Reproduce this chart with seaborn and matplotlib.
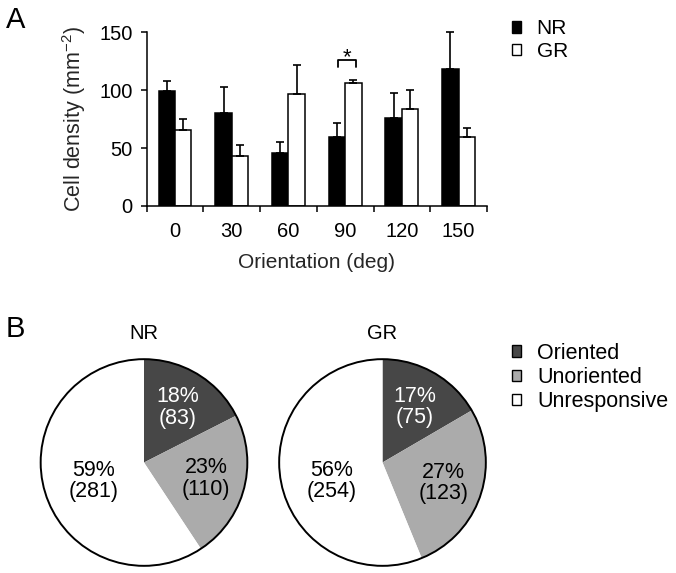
import seaborn as sns
import matplotlib.pyplot as plt
import pandas as pd
from matplotlib.patches import Patch, Circle

# panel A data: cell density per orientation (mean, upward error)
orientations = ["0", "30", "60", "90", "120", "150"]
nr_density = [99, 80, 46, 60, 76, 118]
nr_err = [9, 23, 9, 12, 22, 32]
gr_density = [66, 43, 97, 106, 84, 60]
gr_err = [9, 10, 25, 2.5, 16, 7]
groups = ["NR", "GR"]

# panel B data: cell counts per response class
classes = ["Oriented", "Unoriented", "Unresponsive"]
nr_counts = [83, 110, 281]
gr_counts = [75, 123, 254]
class_colors = ["#474747", "#ababab", "#ffffff"]

sns.set_style("ticks")
plt.rcParams["font.family"] = ["Liberation Sans", "DejaVu Sans"]
plt.rcParams["mathtext.default"] = "regular"
plt.rcParams["text.color"] = "black"
plt.rcParams["xtick.color"] = "black"
plt.rcParams["ytick.color"] = "black"

fig = plt.figure(figsize=(6.76, 5.73), dpi=100)

# ---------- A: bar chart ----------
ax = fig.add_axes([0.217, 0.6405, 0.5034, 0.3031])
df = pd.DataFrame({
    "orientation": orientations * 2,
    "group": ["NR"] * len(orientations) + ["GR"] * len(orientations),
    "density": nr_density + gr_density,
})
sns.barplot(data=df, x="orientation", y="density", hue="group",
            order=orientations, hue_order=groups,
            palette={"NR": "black", "GR": "white"},
            edgecolor="black", linewidth=1.1, width=0.58,
            errorbar=None, legend=False, ax=ax)

centers = {}
for cont, errs, g in zip(ax.containers, [nr_err, gr_err], groups):
    xs = []
    for bar, e in zip(cont, errs):
        x = bar.get_x() + bar.get_width() / 2
        xs.append(x)
        ax.errorbar(x, bar.get_height(), yerr=[[0], [e]], fmt="none",
                    ecolor="black", elinewidth=1.2, capsize=3,
                    capthick=1.2, clip_on=False, zorder=3)
    centers[g] = xs

# significance bracket at 90 deg
i90 = orientations.index("90")
x1, x2 = centers["NR"][i90] + 0.02, centers["GR"][i90] + 0.04
ax.plot([x1, x1, x2, x2], [120.3, 126, 126, 120.3], color="black",
        lw=1.3, clip_on=False)
ax.text((x1 + x2) / 2, 123.5, "*", ha="center", va="baseline", fontsize=16)

ax.set_xlim(-0.5, len(orientations) - 0.5)
ax.set_ylim(0, 150)
ax.set_yticks([0, 50, 100, 150])
ax.set_xticks(range(len(orientations)), orientations)
ax.set_xticks([i - 0.5 for i in range(len(orientations) + 1)], minor=True)
ax.tick_params(axis="x", which="major", length=0, pad=11.5, labelsize=14.5)
ax.tick_params(axis="x", which="minor", length=4, width=1.1)
ax.tick_params(axis="y", length=4, width=1.1, pad=6, labelsize=14.5)
for s in ["left", "bottom"]:
    ax.spines[s].set_linewidth(1.1)
    ax.spines[s].set_color("black")
sns.despine(ax=ax)
ax.set_xlabel("Orientation (deg)", fontsize=15, labelpad=9)
ax.set_ylabel("Cell density (mm$^{-2}$)", fontsize=15.5, labelpad=8)

fig.legend(handles=[Patch(facecolor="black", edgecolor="black", label="NR"),
                    Patch(facecolor="white", edgecolor="black", label="GR")],
           loc="upper left", bbox_to_anchor=(0.757, 0.966), frameon=False,
           fontsize=15, handlelength=0.45, handleheight=0.45,
           handletextpad=0.75, labelspacing=0.15, borderpad=0,
           borderaxespad=0)

# ---------- B: pie charts ----------
def draw_pie(rect, counts, title):
    pax = fig.add_axes(rect)
    total = sum(counts)
    _, _, autotexts = pax.pie(
        counts, colors=class_colors, startangle=90, counterclock=False,
        autopct=lambda p: f"{p:.0f}%\n({round(p * total / 100)})",
        pctdistance=0.62, wedgeprops={"linewidth": 0},
        textprops={"fontsize": 15.5, "linespacing": 1.05})
    autotexts[0].set_color("white")
    autotexts[2].set_position((-0.49, -0.18))
    pax.add_patch(Circle((0, 0), 1, fill=False, ec="black", lw=1.4))
    pax.set_xlim(-1.05, 1.05)
    pax.set_ylim(-1.05, 1.05)
    pax.set_aspect("equal")
    pax.axis("off")
    fig.text(rect[0] + rect[2] / 2, 0.4084, title, ha="center",
             va="baseline", fontsize=14.5)

pw, ph = 217 / 676, 217 / 573
draw_pie([144 / 676 - pw / 2, 110.5 / 573 - ph / 2, pw, ph], nr_counts, "NR")
draw_pie([382.5 / 676 - pw / 2, 110.5 / 573 - ph / 2, pw, ph], gr_counts, "GR")

fig.legend(handles=[Patch(facecolor=c, edgecolor="black", label=l)
                    for c, l in zip(class_colors, classes)],
           loc="upper left", bbox_to_anchor=(0.757, 0.402), frameon=False,
           fontsize=15.5, handlelength=0.42, handleheight=0.42,
           handletextpad=0.75, labelspacing=0.15, borderpad=0,
           borderaxespad=0)

fig.text(0.009, 1 - 28 / 573, "A", fontsize=21, va="baseline")
fig.text(0.009, 1 - 337 / 573, "B", fontsize=21, va="baseline")

fig.savefig("out.png", dpi=100)
